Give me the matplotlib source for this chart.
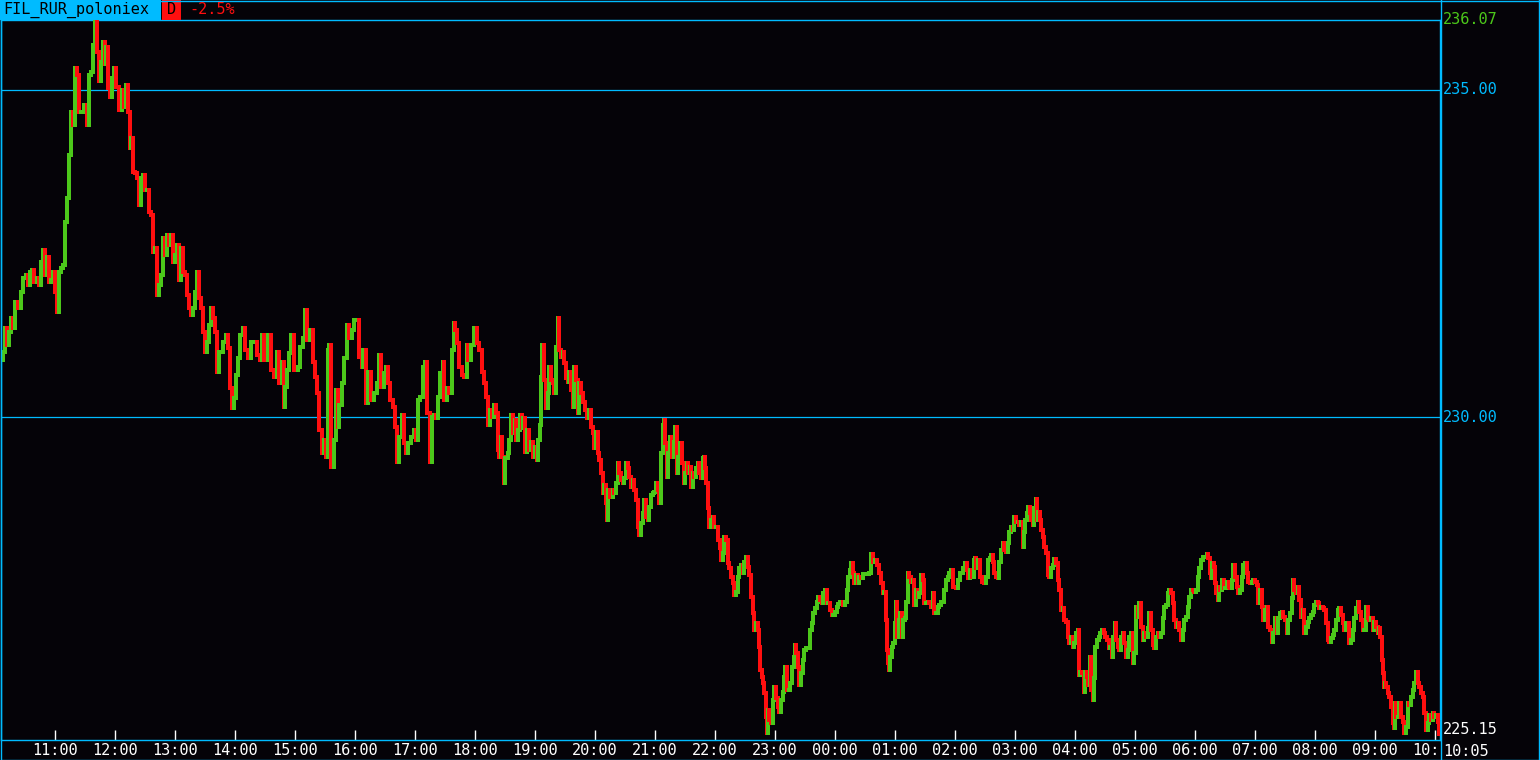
import matplotlib
matplotlib.use("Agg")
import matplotlib.pyplot as plt
from matplotlib.collections import LineCollection
from matplotlib.lines import Line2D
from matplotlib.patches import Rectangle
import pandas as pd

# ==========================================
# data: minutes after 10:06 and last price
# ==========================================
symbol = "FIL_RUR_poloniex"
period = "D"
change = "-2.5%"
start_time = pd.Timestamp("2021-01-01 10:06")
end_label = "10:05"
grid_levels = [235.00, 230.00]
high_price = 236.07
last_price = 225.15

minutes = [
    0, 2, 4, 6, 8, 10, 12, 14, 17, 20, 22, 25,
    27, 29, 31, 33, 36, 38, 40, 42, 44, 46, 48, 50,
    52, 54, 56, 58, 60, 62, 64, 66, 68, 70, 72, 74,
    76, 78, 80, 83, 86, 88, 90, 92, 94, 96, 98, 100,
    102, 104, 105, 107, 109, 111, 113, 115, 118, 121, 123, 125,
    127, 129, 130, 132, 134, 136, 138, 140, 142, 144, 146, 148,
    150, 152, 154, 156, 158, 160, 162, 164, 166, 168, 170, 172,
    174, 176, 178, 180, 182, 184, 186, 188, 190, 192, 194, 196,
    198, 200, 202, 204, 206, 208, 210, 212, 214, 216, 218, 220,
    222, 225, 227, 229, 231, 233, 235, 237, 239, 242, 244, 247,
    250, 253, 256, 259, 261, 263, 267, 270, 273, 276, 278, 281,
    283, 284, 286, 288, 290, 293, 297, 299, 302, 304, 306, 309,
    312, 314, 316, 318, 321, 323, 325, 327, 328, 330, 333, 335,
    337, 338, 341, 343, 346, 348, 351, 353, 356, 358, 361, 362,
    365, 367, 370, 373, 376, 378, 380, 383, 385, 387, 389, 392,
    394, 396, 398, 401, 403, 405, 407, 410, 413, 415, 417, 419,
    422, 424, 426, 429, 431, 433, 435, 437, 439, 442, 443, 446,
    448, 451, 453, 454, 456, 458, 461, 463, 466, 467, 470, 473,
    476, 478, 481, 483, 485, 487, 489, 491, 493, 495, 497, 498,
    500, 501, 503, 504, 507, 508, 510, 512, 514, 515, 517, 519,
    521, 522, 524, 526, 528, 530, 532, 534, 536, 537, 539, 540,
    541, 543, 545, 547, 548, 550, 552, 553, 555, 557, 558, 560,
    562, 563, 565, 567, 568, 570, 572, 573, 575, 577, 578, 580,
    582, 584, 586, 588, 590, 592, 593, 595, 597, 598, 600, 602,
    603, 605, 606, 607, 609, 612, 613, 615, 617, 618, 620, 622,
    623, 625, 627, 628, 630, 632, 633, 635, 637, 638, 640, 642,
    643, 645, 647, 648, 650, 652, 653, 655, 657, 658, 660, 662,
    663, 664, 666, 667, 669, 671, 673, 674, 676, 677, 679, 681,
    683, 684, 686, 687, 689, 690, 692, 693, 695, 697, 698, 700,
    702, 703, 704, 705, 707, 708, 710, 712, 713, 715, 717, 719,
    720, 722, 723, 725, 727, 728, 730, 732, 733, 735, 737, 738,
    740, 742, 743, 745, 747, 748, 750, 752, 753, 755, 757, 758,
    759, 761, 762, 763, 765, 766, 767, 768, 770, 772, 773, 775,
    777, 778, 780, 782, 783, 784, 786, 788, 789, 791, 793, 794,
    795, 797, 798, 800, 802, 803, 805, 807, 809, 811, 812, 814,
    816, 817, 819, 821, 822, 824, 826, 827, 829, 831, 832, 834,
    836, 837, 839, 841, 842, 844, 846, 847, 849, 850, 852, 853,
    855, 857, 858, 860, 862, 865, 868, 870, 872, 874, 876, 878,
    880, 882, 883, 885, 886, 887, 888, 889, 891, 892, 894, 895,
    896, 898, 899, 901, 902, 904, 905, 907, 908, 910, 912, 913,
    915, 917, 918, 920, 922, 923, 925, 927, 928, 930, 932, 933,
    935, 937, 938, 940, 942, 943, 945, 947, 948, 950, 952, 955,
    957, 959, 962, 964, 966, 967, 969, 971, 973, 974, 975, 977,
    979, 981, 983, 985, 987, 989, 990, 992, 993, 995, 997, 998,
    1000, 1002, 1003, 1005, 1007, 1008, 1010, 1012, 1013, 1015, 1017, 1018,
    1020, 1022, 1023, 1024, 1026, 1027, 1029, 1030, 1032, 1033, 1035, 1036,
    1037, 1039, 1040, 1042, 1043, 1045, 1047, 1048, 1050, 1052, 1053, 1055,
    1057, 1058, 1060, 1062, 1063, 1065, 1067, 1068, 1070, 1072, 1073, 1075,
    1077, 1078, 1079, 1081, 1083, 1084, 1086, 1087, 1089, 1090, 1092, 1093,
    1094, 1096, 1098, 1099, 1101, 1103, 1104, 1106, 1108, 1109, 1111, 1112,
    1114, 1115, 1117, 1118, 1120, 1122, 1123, 1125, 1127, 1128, 1130, 1132,
    1133, 1135, 1137, 1138, 1140, 1142, 1143, 1145, 1147, 1148, 1150, 1152,
    1153, 1155, 1157, 1158, 1160, 1162, 1163, 1165, 1167, 1168, 1170, 1172,
    1173, 1175, 1177, 1178, 1180, 1182, 1183, 1185, 1187, 1188, 1190, 1192,
    1193, 1195, 1197, 1198, 1200, 1202, 1204, 1206, 1207, 1209, 1210, 1211,
    1213, 1214, 1215, 1217, 1218, 1219, 1221, 1223, 1224, 1226, 1228, 1229,
    1231, 1232, 1234, 1236, 1237, 1239, 1241, 1242, 1244, 1246, 1247, 1249,
    1251, 1252, 1254, 1256, 1257, 1259, 1261, 1262, 1264, 1266, 1267, 1269,
    1271, 1272, 1274, 1276, 1277, 1279, 1281, 1282, 1284, 1286, 1287, 1289,
    1291, 1292, 1293, 1295, 1297, 1298, 1300, 1302, 1303, 1305, 1307, 1308,
    1310, 1312, 1313, 1315, 1317, 1318, 1320, 1322, 1323, 1325, 1327, 1328,
    1330, 1332, 1333, 1335, 1337, 1338, 1340, 1342, 1343, 1345, 1347, 1348,
    1350, 1352, 1353, 1355, 1357, 1358, 1360, 1362, 1363, 1365, 1367, 1368,
    1370, 1372, 1373, 1375, 1377, 1378, 1379, 1381, 1382, 1383, 1384, 1385,
    1387, 1388, 1390, 1392, 1393, 1394, 1395, 1397, 1398, 1400, 1402, 1403,
    1405, 1407, 1408, 1410, 1412, 1413, 1415, 1417, 1418, 1420, 1422, 1423,
    1425, 1427, 1428, 1430, 1432, 1433, 1435, 1437, 1438,
]

prices = [
    230.87, 230.99, 231.36, 231.10, 231.30, 231.51, 231.36, 231.76, 231.67, 231.91, 232.13, 232.17,
    232.02, 232.22, 232.25, 232.07, 232.13, 232.02, 232.37, 232.56, 232.17, 232.45, 232.07, 232.10,
    232.22, 231.91, 231.61, 232.22, 232.28, 232.33, 232.98, 233.35, 234.01, 234.67, 234.47, 235.34,
    235.23, 234.67, 234.67, 234.77, 234.47, 235.23, 235.28, 235.69, 236.07, 235.58, 235.13, 235.43,
    235.74, 235.39, 235.66, 235.03, 234.90, 235.19, 235.34, 235.05, 234.70, 235.00, 234.74, 235.08,
    234.67, 234.12, 234.27, 233.75, 233.73, 233.66, 233.24, 233.66, 233.70, 233.47, 233.47, 233.14,
    233.09, 232.52, 232.59, 231.87, 232.02, 232.17, 232.74, 232.48, 232.78, 232.63, 232.78, 232.37,
    232.48, 232.63, 232.10, 232.59, 232.22, 232.17, 231.87, 231.67, 231.56, 231.67, 231.91, 232.22,
    231.82, 231.67, 231.30, 230.99, 231.15, 231.41, 231.67, 231.51, 231.30, 230.69, 230.99, 230.99,
    231.15, 231.25, 231.06, 230.44, 230.14, 230.29, 230.64, 230.90, 231.25, 231.36, 231.03, 230.90,
    231.15, 231.15, 230.95, 230.87, 231.25, 230.87, 231.25, 230.72, 230.61, 230.99, 230.52, 230.84,
    230.15, 230.46, 230.72, 230.98, 231.25, 230.72, 230.77, 231.07, 231.21, 231.64, 231.18, 231.33,
    230.84, 230.61, 230.37, 229.80, 229.45, 229.65, 229.39, 231.03, 231.10, 229.23, 229.65, 230.41,
    229.85, 230.18, 230.52, 230.90, 231.41, 231.21, 231.33, 231.48, 231.48, 230.92, 230.77, 231.03,
    230.21, 230.69, 230.26, 230.37, 230.52, 230.95, 230.46, 230.67, 230.77, 230.52, 230.26, 230.15,
    229.85, 229.31, 229.69, 230.03, 229.60, 229.45, 229.60, 229.69, 229.80, 229.65, 230.26, 230.31,
    230.77, 230.84, 230.06, 229.31, 230.00, 230.03, 229.98, 230.31, 230.67, 230.84, 230.26, 230.44,
    230.37, 231.03, 231.44, 231.33, 231.13, 230.77, 230.64, 230.61, 231.10, 230.87, 231.10, 231.36,
    231.13, 231.03, 230.69, 230.52, 230.31, 229.88, 230.11, 230.00, 230.18, 230.06, 229.50, 229.39,
    229.69, 229.39, 228.99, 229.37, 229.45, 229.65, 230.03, 229.76, 229.95, 229.65, 229.80, 230.03,
    229.83, 229.98, 229.46, 229.80, 229.50, 229.62, 229.39, 229.54, 229.34, 229.65, 229.88, 230.61,
    231.10, 230.57, 230.14, 230.37, 230.77, 230.57, 230.52, 230.37, 231.07, 231.51, 231.03, 230.92,
    230.99, 230.83, 230.60, 230.54, 230.69, 230.41, 230.15, 230.77, 230.57, 230.06, 230.52, 230.37,
    230.23, 230.11, 229.98, 230.11, 229.85, 229.76, 229.53, 229.77, 229.45, 229.34, 229.14, 228.84,
    228.96, 228.68, 228.42, 228.88, 228.78, 228.88, 228.84, 228.99, 229.30, 229.14, 229.04, 228.99,
    229.07, 229.30, 229.22, 229.08, 228.93, 229.04, 228.88, 228.73, 228.32, 228.19, 228.38, 228.53,
    228.73, 228.47, 228.42, 228.62, 228.81, 228.84, 228.85, 228.99, 228.88, 228.68, 229.45, 229.88,
    229.95, 229.60, 229.08, 229.45, 229.69, 229.39, 229.62, 229.85, 229.14, 229.39, 229.60, 229.30,
    228.99, 229.14, 229.30, 229.14, 229.23, 228.93, 229.14, 229.08, 229.22, 229.30, 229.14, 229.07,
    229.37, 229.39, 229.22, 228.99, 228.61, 228.32, 228.42, 228.47, 228.32, 228.32, 228.12, 228.00,
    227.81, 227.92, 228.16, 228.12, 227.77, 227.69, 227.55, 227.46, 227.28, 227.32, 227.55, 227.69,
    227.74, 227.61, 227.78, 227.86, 227.70, 227.58, 227.25, 227.00, 226.74, 226.85, 226.74, 226.48,
    226.13, 226.02, 225.93, 225.78, 225.41, 225.17, 225.52, 225.36, 225.32, 225.67, 225.87, 225.70,
    225.56, 225.49, 225.67, 225.79, 226.02, 226.17, 225.82, 225.82, 225.93, 226.17, 226.33, 226.51,
    226.39, 226.17, 225.90, 226.08, 226.28, 226.44, 226.47, 226.47, 226.74, 226.85, 227.00, 227.08,
    227.17, 227.25, 227.20, 227.15, 227.31, 227.35, 227.15, 227.15, 227.05, 226.97, 226.97, 227.02,
    227.09, 227.14, 227.17, 227.17, 227.12, 227.17, 227.35, 227.55, 227.66, 227.77, 227.61, 227.46,
    227.58, 227.46, 227.55, 227.54, 227.60, 227.60, 227.61, 227.90, 227.78, 227.81, 227.74, 227.61,
    227.46, 227.31, 227.32, 226.89, 226.44, 226.24, 226.13, 226.33, 226.48, 226.54, 226.85, 227.17,
    226.63, 226.89, 227.00, 226.63, 226.89, 226.92, 227.17, 227.61, 227.55, 227.48, 227.51, 227.12,
    227.35, 227.25, 227.31, 227.58, 227.51, 227.15, 227.15, 227.17, 227.15, 227.09, 227.31, 227.00,
    227.00, 227.09, 227.12, 227.17, 227.17, 227.35, 227.51, 227.55, 227.61, 227.66, 227.40, 227.38,
    227.51, 227.61, 227.69, 227.77, 227.66, 227.54, 227.66, 227.55, 227.81, 227.84, 227.69, 227.81,
    227.55, 227.48, 227.46, 227.55, 227.81, 227.84, 227.89, 227.78, 227.61, 227.55, 227.54, 227.78,
    227.97, 228.07, 227.97, 227.93, 228.07, 228.24, 228.32, 228.27, 228.47, 228.39, 228.39, 228.35,
    228.39, 228.01, 228.24, 228.42, 228.53, 228.62, 228.53, 228.42, 228.35, 228.61, 228.75, 228.42,
    228.55, 228.42, 228.27, 228.16, 228.01, 227.92, 227.58, 227.55, 227.69, 227.74, 227.83, 227.77,
    227.51, 227.35, 227.05, 227.08, 226.89, 226.86, 226.63, 226.54, 226.63, 226.48, 226.54, 226.70,
    226.74, 226.05, 226.10, 226.08, 225.79, 226.10, 226.02, 225.90, 226.33, 225.82, 225.67, 226.01,
    226.48, 226.59, 226.63, 226.70, 226.74, 226.70, 226.63, 226.59, 226.47, 226.48, 226.33, 226.63,
    226.85, 226.59, 226.48, 226.44, 226.63, 226.70, 226.54, 226.33, 226.44, 226.63, 226.70, 226.24,
    226.39, 227.09, 226.94, 227.15, 226.79, 226.59, 226.70, 226.63, 226.77, 227.00, 226.74, 226.51,
    226.47, 226.63, 226.70, 226.63, 226.70, 226.92, 227.09, 227.12, 227.31, 227.35, 227.31, 227.15,
    226.89, 226.79, 226.85, 226.74, 226.59, 226.74, 226.89, 226.94, 227.09, 227.25, 227.36, 227.35,
    227.32, 227.35, 227.55, 227.69, 227.81, 227.86, 227.86, 227.90, 227.84, 227.61, 227.54, 227.77,
    227.70, 227.46, 227.31, 227.20, 227.40, 227.35, 227.51, 227.38, 227.38, 227.48, 227.40, 227.38,
    227.51, 227.74, 227.55, 227.40, 227.31, 227.35, 227.55, 227.74, 227.77, 227.61, 227.48, 227.46,
    227.48, 227.51, 227.48, 227.43, 227.15, 227.35, 227.09, 226.89, 227.05, 227.09, 226.79, 226.74,
    226.56, 226.70, 226.92, 226.70, 226.92, 227.00, 227.02, 226.94, 226.89, 226.70, 226.89, 227.00,
    227.23, 227.51, 227.35, 227.31, 227.40, 227.20, 226.94, 227.05, 226.70, 226.79, 226.86, 226.92,
    226.97, 227.02, 227.12, 227.17, 227.15, 227.08, 227.09, 227.08, 227.05, 226.85, 226.59, 226.56,
    226.62, 226.66, 226.74, 226.89, 227.05, 227.08, 226.97, 226.85, 226.74, 226.85, 226.85, 226.54,
    226.59, 226.74, 226.92, 227.08, 227.17, 227.02, 226.89, 226.74, 226.74, 227.09, 226.92, 226.89,
    226.92, 226.74, 226.86, 226.79, 226.70, 226.77, 226.63, 226.28, 226.08, 225.87, 225.93, 225.87,
    225.78, 225.72, 225.56, 225.32, 225.24, 225.62, 225.41, 225.41, 225.62, 225.41, 225.33, 225.17,
    225.26, 225.62, 225.59, 225.72, 225.82, 225.93, 226.10, 225.93, 225.87, 225.78, 225.72, 225.47,
    225.21, 225.32, 225.44, 225.36, 225.47, 225.41, 225.44, 225.33, 225.15,
]

assert len(minutes) == len(prices)

# ==========================================
# colours / layout
# ==========================================
BG = "#050308"
CYAN = "#00bbff"
UP = "#4cc81a"
DOWN = "#ff0f0f"
WHITE = "#ffffff"
FONT = "DejaVu Sans Mono"
FS = 11

W, H = 1540, 760


def fx(px):
    return px / W


def fy(py):
    return 1 - py / H


fig = plt.figure(figsize=(W / 100, H / 100), dpi=100, facecolor=BG)

# main price panel: x 1..1440 px, y 20..740 px
ax = fig.add_axes([fx(1), fy(740), fx(1440) - fx(1), fy(20) - fy(740)])
ax.set_facecolor(BG)
span = 1440
ax.set_xlim(0, span - 1)
y_top = high_price
y_bot = 230.00 - (740 - 417) / 65.4
ax.set_ylim(y_bot, y_top)

for s in ax.spines.values():
    s.set_color(CYAN)
    s.set_linewidth(1.0)

for lv in grid_levels:
    ax.axhline(lv, color=CYAN, lw=0.9, zorder=1)

# step segments coloured by direction
segs, cols = [], []
prev_col = UP
for i in range(1, len(minutes)):
    t0, t1 = minutes[i - 1], minutes[i]
    p0, p1 = prices[i - 1], prices[i]
    col = UP if p1 >= p0 else DOWN
    segs.append([(t0, p0), (t1, p0)])
    cols.append(prev_col)
    segs.append([(t1, p0), (t1, p1)])
    cols.append(col)
    prev_col = col
lc = LineCollection(segs, colors=cols, linewidths=1.7, capstyle="projecting",
                    antialiased=False, zorder=3)
ax.add_collection(lc)

# hour ticks
hours = pd.date_range(start_time.ceil("h"), start_time + pd.Timedelta(minutes=span), freq="h")
tick_pos = [(h - start_time).total_seconds() / 60 for h in hours]
ax.set_xticks(tick_pos)
ax.tick_params(axis="x", direction="in", length=7.5, width=1.0, color=WHITE,
               labelbottom=False)
ax.set_yticks([])

# time label strip (clipped at right edge like the original)
band = fig.add_axes([fx(1), fy(759), fx(1440) - fx(1), fy(740) - fy(759)])
band.set_xlim(0, span - 1)
band.set_ylim(0, 1)
band.axis("off")
for h, tp in zip(hours, tick_pos):
    band.text(tp, 0.45, h.strftime("%H:%M"), color=WHITE, fontsize=FS, family=FONT,
              ha="center", va="center", clip_on=True)


# price labels on the right
def ypix(price):
    return 417 - (price - 230.00) * 65.4


fig.text(fx(1443), fy(ypix(high_price) - 1), f"{high_price:.2f}", color=UP, fontsize=FS,
         family=FONT, ha="left", va="center")
for lv in grid_levels:
    fig.text(fx(1443), fy(ypix(lv)), f"{lv:.2f}", color=CYAN, fontsize=FS,
             family=FONT, ha="left", va="center")
fig.text(fx(1443), fy(730), f"{last_price:.2f}", color=WHITE, fontsize=FS,
         family=FONT, ha="left", va="center")
fig.text(fx(1443), fy(751), end_label, color=WHITE, fontsize=FS, family=FONT,
         ha="left", va="center")

# header
fig.add_artist(Rectangle((fx(0), fy(20)), fx(161), fy(0) - fy(20), transform=fig.transFigure,
                         facecolor=CYAN, edgecolor="none"))
fig.add_artist(Rectangle((fx(162), fy(20)), fx(19), fy(0) - fy(20), transform=fig.transFigure,
                         facecolor=DOWN, edgecolor="none"))
fig.text(fx(3), fy(10), symbol, color="black", fontsize=FS, family=FONT, ha="left", va="center")
fig.text(fx(171.5), fy(10), period, color="black", fontsize=FS, family=FONT,
         ha="center", va="center")
fig.text(fx(189), fy(10), change, color=DOWN, fontsize=FS, family=FONT, ha="left", va="center")

# outer frame lines
frame = [
    ([fx(0.5), fx(1539.5)], [fy(0.5), fy(0.5)]),
    ([fx(0.5), fx(1539.5)], [fy(759.5), fy(759.5)]),
    ([fx(0.5), fx(0.5)], [fy(0), fy(760)]),
    ([fx(1538.5), fx(1538.5)], [fy(0), fy(760)]),
    ([fx(1440.5), fx(1440.5)], [fy(0), fy(760)]),
]
for xs, ys in frame:
    fig.add_artist(Line2D(xs, ys, color=CYAN, lw=1.0, transform=fig.transFigure))

fig.savefig("out.png", dpi=100, facecolor=BG)
